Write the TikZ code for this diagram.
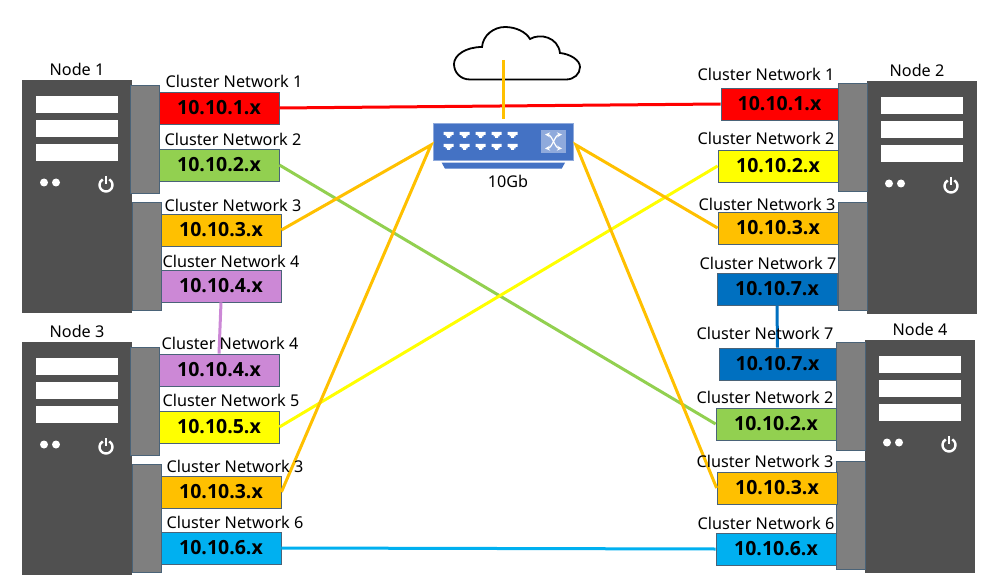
\documentclass[tikz,border=0pt]{standalone}
\usepackage{fontspec}
\setmainfont{Noto Sans}
\newfontfamily\boxfont{Open Sans}[BoldFont = {Open Sans Bold}]
\usepackage{tikz}

\definecolor{serverdark}{HTML}{505050}
\definecolor{panelgray}{HTML}{7F7F7F}
\definecolor{edgeblue}{HTML}{4A6378}
\definecolor{netred}{HTML}{FF0000}
\definecolor{netgreen}{HTML}{92D050}
\definecolor{netorange}{HTML}{FFC000}
\definecolor{netpurple}{HTML}{CC88D6}
\definecolor{netyellow}{HTML}{FFFF00}
\definecolor{netcyan}{HTML}{00B0F0}
\definecolor{netblue}{HTML}{0070C0}
\definecolor{switchblue}{HTML}{4472C4}
\definecolor{switchlight}{HTML}{8FAADC}

\tikzset{
    netbox/.style = {draw = edgeblue, line width = 0.8, minimum width = 120, minimum height = 32, inner sep = 0, font = \boxfont\bfseries\fontsize{19.5}{19.5}\selectfont},
    netlabel/.style = {inner sep = 0, font = \fontsize{16.2}{16.2}\selectfont},
    link/.style = {line width = 3},
    panel/.style = {draw = edgeblue, fill = panelgray, line width = 0.8}
}

% Tower body with its bars, dots and power symbol.
\newcommand{\servertower}[2]{
    \begin{scope}[shift = {(#1, #2)}]
        \fill[serverdark] (0, 0) rectangle (110, 233);
        \fill[white] (14, 16) rectangle (96, 33);
        \fill[white] (14, 40) rectangle (96, 57);
        \fill[white] (14, 64) rectangle (96, 81);
        \fill[white] (22, 102.5) circle (4);
        \fill[white] (34, 102.5) circle (4);
        \draw[white, line width = 2.4] (84, 105) ++(300:6.5) arc (300:600:6.5);
        \draw[white, line width = 2.4] (84, 96) to (84, 104);
    \end{scope}
}

\begin{document}
\begin{tikzpicture}[x = 1pt, y = -1pt]

        \useasboundingbox (0, 0) rectangle (999, 575);

        % Servers.
        \servertower{22}{80}
        \servertower{867}{81}
        \servertower{22}{342}
        \servertower{865}{340}

        % Panels beside the servers.
        \draw[panel] (130, 85) rectangle (159, 193);
        \draw[panel] (132, 202) rectangle (161, 310);
        \draw[panel] (838, 83) rectangle (867, 191);
        \draw[panel] (838, 202) rectangle (867, 310);
        \draw[panel] (130, 347) rectangle (159, 455);
        \draw[panel] (132, 464) rectangle (161, 572);
        \draw[panel] (836, 342) rectangle (865, 450);
        \draw[panel] (836, 461) rectangle (865, 569);

        % Network boxes of node 1.
        \node[netbox, fill = netred] (neta) at (219, 108) {10.10.1.x};
        \node[netbox, fill = netgreen] (netb) at (219, 165) {10.10.2.x};
        \node[netbox, fill = netorange] (netc) at (221, 230) {10.10.3.x};
        \node[netbox, fill = netpurple] (netd) at (221, 286) {10.10.4.x};

        % Network boxes of node 3.
        \node[netbox, fill = netpurple] (nete) at (219, 370) {10.10.4.x};
        \node[netbox, fill = netyellow] (netf) at (219, 427) {10.10.5.x};
        \node[netbox, fill = netorange] (netg) at (221, 492) {10.10.3.x};
        \node[netbox, fill = netcyan] (neth) at (221, 548) {10.10.6.x};

        % Network boxes of node 2.
        \node[netbox, fill = netred, minimum width = 117] (neti) at (779.5, 104) {10.10.1.x};
        \node[netbox, fill = netyellow] (netj) at (778, 166) {10.10.2.x};
        \node[netbox, fill = netorange] (netk) at (778, 228) {10.10.3.x};
        \node[netbox, fill = netblue] (netl) at (777, 289) {10.10.7.x};

        % Network boxes of node 4.
        \node[netbox, fill = netblue, minimum width = 117] (netm) at (777.5, 364) {10.10.7.x};
        \node[netbox, fill = netgreen] (netn) at (776, 424) {10.10.2.x};
        \node[netbox, fill = netorange] (neto) at (777, 488) {10.10.3.x};
        \node[netbox, fill = netcyan] (netp) at (776, 549) {10.10.6.x};

        % Cloud outline.
        \draw[line width = 1.8, fill = white] (470, 79.5) .. controls (460, 79.5) and (454, 72) .. (454, 64)
            .. controls (454, 55) and (466, 47) .. (482, 47)
            .. controls (483, 35) and (494, 27) .. (505, 27)
            .. controls (516, 27) and (526, 32) .. (530, 39)
            .. controls (540, 33) and (558, 37) .. (560, 53)
            .. controls (570, 54) and (580, 60) .. (580, 67)
            .. controls (580, 74) and (574, 79.5) .. (566, 79.5) -- cycle;

        % Switch body, base and ports.
        \node[draw = switchlight, fill = switchblue, line width = 0.8, minimum width = 140, minimum height = 37, inner sep = 0] (switch) at (503, 141.5) {};
        \fill[switchblue] (441.7, 162.7) -- (565, 162.7) -- (561.7, 168.7) -- (445, 168.7) -- cycle;
        \foreach \x in {0, 1, 2, 3, 4} {
            \foreach \y in {132, 144} {
                \fill[white] (443.5 + 16 * \x, \y) -- ++(10, 0) -- ++(0, 3) -- ++(-2, 0) -- ++(0, 1.5) -- ++(-1.5, 0) -- ++(0, 1.5) -- ++(-3, 0) -- ++(0, -1.5) -- ++(-1.5, 0) -- ++(0, -1.5) -- ++(-2, 0) -- cycle;
            }
        }
        \fill[switchlight] (541, 130) rectangle (566, 153);
        \draw[white, line width = 1.2, <->, >=stealth] (545, 134.5) .. controls (552, 135) and (555, 148) .. (562, 148.5);
        \draw[white, line width = 1.2, <->, >=stealth] (545, 148.5) .. controls (552, 148) and (555, 135) .. (562, 134.5);

        % Free ends of the links at the switch and cloud.
        \coordinate (switchL) at (431, 145);
        \coordinate (switchR) at (576, 145);
        \coordinate (cloudIn) at (503, 60);
        \coordinate (switchUp) at (503, 119);

        % Links.
        \draw[link, draw = netred] (neta.east) to (neti.west);
        \draw[link, draw = netgreen] (netb.east) to (netn.west);
        \draw[link, draw = netyellow] (netf.east) to (netj.west);
        \draw[link, draw = netcyan] (neth.east) to (netp.west);
        \draw[link, draw = netpurple] (netd.south) to (nete.north);
        \draw[link, draw = netblue] (netl.south) to (netm.north);
        \draw[link, draw = netorange] (cloudIn) to (switchUp);
        \draw[link, draw = netorange] (netc.east) to (switchL) to (netg.east);
        \draw[link, draw = netorange] (netk.west) to (switchR) to (neto.west);

        % Switch caption and node names.
        \node[netlabel] (swlabel) at (508, 181) {10Gb};
        \node[netlabel] (nodeone) at (77, 69) {Node 1};
        \node[netlabel] (nodetwo) at (917, 70) {Node 2};
        \node[netlabel] (nodethree) at (77, 331) {Node 3};
        \node[netlabel] (nodefour) at (920, 329) {Node 4};

        % Labels above the network boxes.
        \node[netlabel] (laba) at (234, 81) {Cluster Network 1};
        \node[netlabel] (labb) at (233, 139) {Cluster Network 2};
        \node[netlabel] (labc) at (233, 205) {Cluster Network 3};
        \node[netlabel] (labd) at (231, 261) {Cluster Network 4};
        \node[netlabel] (labe) at (230, 343) {Cluster Network 4};
        \node[netlabel] (labf) at (231, 400) {Cluster Network 5};
        \node[netlabel] (labg) at (235, 466) {Cluster Network 3};
        \node[netlabel] (labh) at (235, 522) {Cluster Network 6};
        \node[netlabel] (labi) at (766, 74) {Cluster Network 1};
        \node[netlabel] (labj) at (766, 138) {Cluster Network 2};
        \node[netlabel] (labk) at (767, 204) {Cluster Network 3};
        \node[netlabel] (labl) at (768, 263) {Cluster Network 7};
        \node[netlabel] (labm) at (765, 333) {Cluster Network 7};
        \node[netlabel] (labn) at (765, 397) {Cluster Network 2};
        \node[netlabel] (labo) at (765, 461) {Cluster Network 3};
        \node[netlabel] (labp) at (766, 523) {Cluster Network 6};
    \end{tikzpicture}
\end{document}
